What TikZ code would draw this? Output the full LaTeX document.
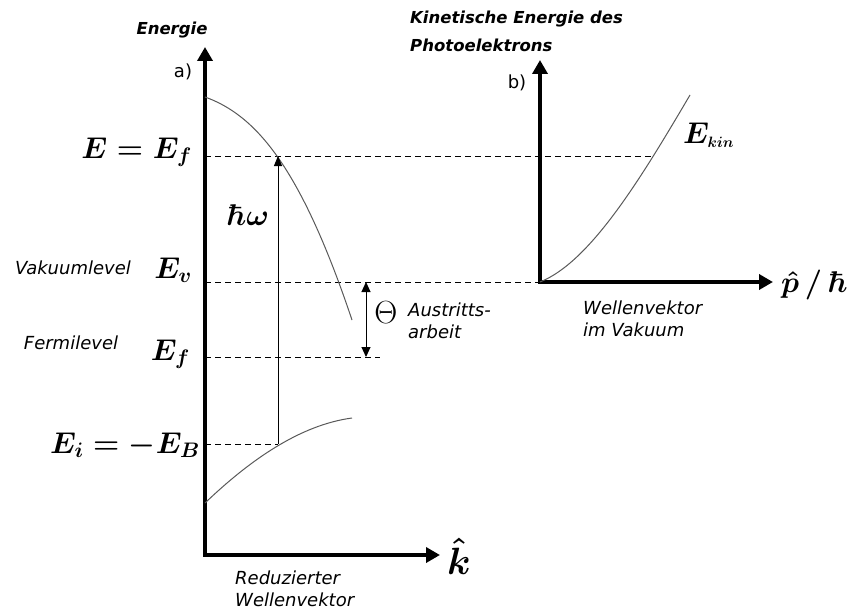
\RequirePackage{fix-cm}
\documentclass[tikz,border=0pt]{standalone}
\usepackage[no-math]{fontspec}
\setsansfont{DejaVu Sans}
\usetikzlibrary{arrows.meta}
\begin{document}
\begin{tikzpicture}[
x=1pt,y=-1pt,
axes/.style={line width=4pt,{Triangle[length=14pt,width=15pt]}-{Triangle[length=14pt,width=15pt]}},
level/.style={dash pattern=on 6pt off 4pt,line width=0.9pt},
band/.style={line width=1pt,black!65},
transition/.style={line width=1pt,-{Triangle[length=10pt,width=8pt]}},
workfn/.style={line width=1pt,{Triangle[length=10pt,width=9pt]}-{Triangle[length=10pt,width=9pt]}},
lbl/.style={font=\sffamily\itshape\fontsize{18}{22}\selectfont,inner sep=0pt},
title/.style={font=\sffamily\bfseries\itshape\fontsize{16.5}{28}\selectfont,inner sep=0pt},
sym/.style={font=\fontsize{30}{36}\selectfont\boldmath,inner sep=0pt},
tag/.style={font=\sffamily\fontsize{18}{22}\selectfont,inner sep=0pt}
]
\useasboundingbox (0,0) rectangle (848,615);
% axes
\coordinate (o1) at (205,555);
\coordinate (ytip1) at (205,47);
\coordinate (xtip1) at (440,555);
\coordinate (o2) at (540,282);
\coordinate (ytip2) at (540,60);
\coordinate (xtip2) at (773,282);
\draw[axes] (ytip1) -- (o1) -- (xtip1);
\draw[axes] (ytip2) -- (o2) -- (xtip2);
% points on the bands
\coordinate (cb0) at (205,97);
\coordinate (cb1) at (352,320);
\coordinate (vb0) at (205,503);
\coordinate (vb1) at (352,418);
\coordinate (kintop) at (690,95);
\coordinate (efinal) at (278,156);
\coordinate (einit) at (278,444);
\coordinate (ekincut) at (652,156);
\coordinate (fermiend) at (380,357);
\coordinate (wtop) at (366,282);
\coordinate (wbot) at (366,357);
% levels
\draw[level] (o1|-efinal) -- (ekincut);
\draw[level] (o1|-o2) -- (o2);
\draw[level] (o1|-fermiend) -- (fermiend);
\draw[level] (o1|-einit) -- (einit);
% bands
\draw[band] (cb0) .. controls (255,115) and (300,165) .. (cb1);
\draw[band] (vb0) .. controls (250,460) and (300,425) .. (vb1);
\draw[band] (o2) .. controls (590,262) and (640,180) .. (kintop);
% arrows
\draw[transition] (einit) -- (efinal);
\draw[workfn] (wtop) -- (wbot);
% labels
\node[title] (energy) at (172,30) {Energie};
\node[tag] (taga) at (183,72) {a)};
\node[title,align=left,anchor=west] (ekintitle) at (410,31) {Kinetische Energie des\\Photoelektrons};
\node[tag] (tagb) at (517,83) {b)};
\node[sym,anchor=base east] (eflab) at (192,158) {$E=E_f$};
\node[sym,anchor=base east] (evlab) at (192,278) {$E_v$};
\node[sym,anchor=base east] (ferlab) at (190,360) {$E_f$};
\node[sym,anchor=base east] (eilab) at (200,453) {$E_i=-E_B$};
\node[lbl] (vac) at (73,268) {Vakuumlevel};
\node[lbl] (fermi) at (71,343) {Fermilevel};
\node[sym] (hw) at (248,215) {$\hbar\omega$};
\node[sym,font=\fontsize{32}{38}\selectfont] (theta) at (386,313) {$\Theta$};
\node[lbl,align=left,anchor=west] (work) at (408,321) {Austritts-\\arbeit};
\node[sym,anchor=base west] (ekin) at (683,143) {$E_{\scriptscriptstyle kin}$};
\node[sym,anchor=base west] (plab) at (781,292) {$\hat{p}\,/\,\hbar$};
\node[sym,font=\fontsize{38}{44}\selectfont\boldmath,anchor=base west] (klab) at (447,574) {$\hat{k}$};
\node[lbl,align=left,anchor=west] (kname) at (235,589) {Reduzierter\\Wellenvektor};
\node[lbl,align=left,anchor=west] (pname) at (583,319) {Wellenvektor\\im Vakuum};
\end{tikzpicture}
\end{document}
